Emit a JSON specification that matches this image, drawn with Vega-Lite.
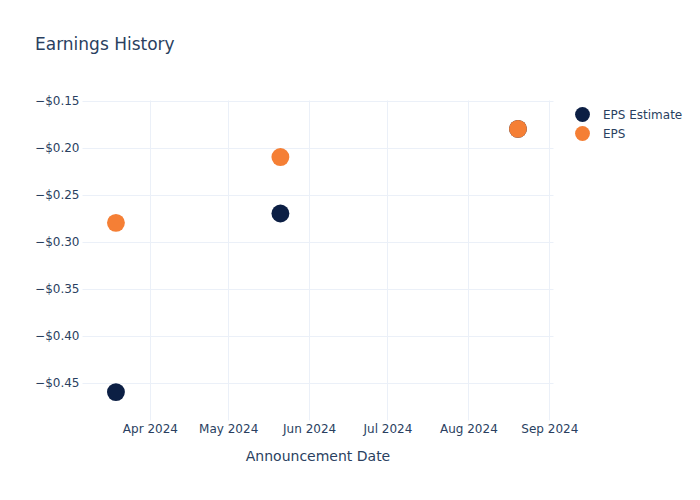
{
  "$schema": "https://vega.github.io/schema/vega-lite/v6.json",
  "autosize": {"type": "none"},
  "width": 471,
  "height": 320,
  "padding": {"left": 82, "top": 100, "right": 147, "bottom": 80},
  "background": "white",
  "config": {
    "font": "DejaVu Sans",
    "view": {"stroke": null},
    "axis": {
      "domain": false,
      "ticks": false,
      "gridColor": "#ebf0f8",
      "gridWidth": 1,
      "labelColor": "#2a3f5f",
      "labelFontSize": 12,
      "labelFont": "DejaVu Sans",
      "titleColor": "#2a3f5f",
      "titleFont": "DejaVu Sans",
      "titleFontWeight": "normal",
      "titleFontSize": 14
    }
  },
  "title": {
    "text": "Earnings History",
    "anchor": "start",
    "frame": "group",
    "dx": -47,
    "offset": 41,
    "fontSize": 17,
    "fontWeight": "normal",
    "color": "#2a3f5f",
    "font": "DejaVu Sans"
  },
  "data": {
    "values": [
      {"date": "2024-03-19", "series": "EPS Estimate", "value": -0.46},
      {"date": "2024-05-21", "series": "EPS Estimate", "value": -0.27},
      {"date": "2024-08-20", "series": "EPS Estimate", "value": -0.18},
      {"date": "2024-03-19", "series": "EPS", "value": -0.28},
      {"date": "2024-05-21", "series": "EPS", "value": -0.21},
      {"date": "2024-08-20", "series": "EPS", "value": -0.18}
    ]
  },
  "mark": {"type": "circle", "size": 320, "opacity": 1},
  "encoding": {
    "x": {
      "field": "date",
      "type": "temporal",
      "title": "Announcement Date",
      "scale": {
        "type": "utc",
        "domain": [
          {"year": 2024, "month": 3, "date": 6, "utc": true},
          {"year": 2024, "month": 9, "date": 2, "hours": 10, "utc": true}
        ]
      },
      "axis": {
        "labelExpr": "utcFormat(datum.value, '%b %Y')",
        "tickCount": {"interval": "month", "step": 1},
        "labelPadding": 3,
        "titlePadding": 15,
        "labelFlush": false
      }
    },
    "y": {
      "field": "value",
      "type": "quantitative",
      "title": null,
      "scale": {"domain": [-0.4897, -0.1493], "nice": false, "zero": false},
      "axis": {
        "format": "$.2f",
        "values": [-0.45, -0.4, -0.35, -0.3, -0.25, -0.2, -0.15],
        "labelPadding": 3
      }
    },
    "color": {
      "field": "series",
      "type": "nominal",
      "scale": {"domain": ["EPS Estimate", "EPS"], "range": ["#0c1f44", "#f57f35"]},
      "legend": {
        "title": null,
        "orient": "none",
        "legendX": 492,
        "legendY": 6,
        "symbolType": "circle",
        "symbolSize": 220,
        "symbolOpacity": 1,
        "labelFontSize": 12,
        "labelColor": "#2a3f5f",
        "labelFont": "DejaVu Sans",
        "labelOffset": 12,
        "rowPadding": 3
      }
    },
    "order": {"field": "series", "sort": "descending"}
  }
}
